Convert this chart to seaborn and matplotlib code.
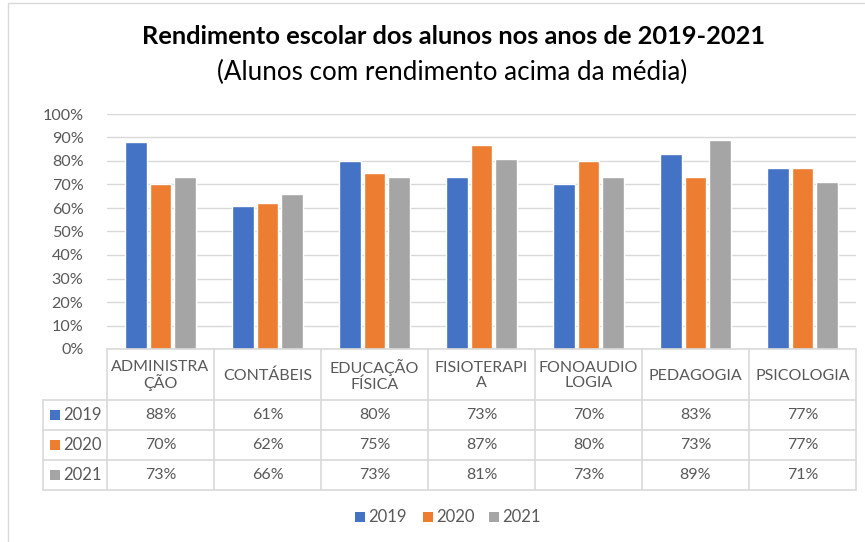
"""
    Rendimento escolar chart with data table (Excel style)
"""

import numpy as np
import pandas as pd
import seaborn as sns
import matplotlib.pyplot as plt
from matplotlib.patches import Rectangle

# DATA
cursos = ["ADMINISTRA\nÇÃO", "CONTÁBEIS", "EDUCAÇÃO\nFÍSICA", "FISIOTERAPI\nA",
          "FONOAUDIO\nLOGIA", "PEDAGOGIA", "PSICOLOGIA"]
anos = ["2019", "2020", "2021"]
v2019 = [88, 61, 80, 73, 70, 83, 77]
v2020 = [70, 62, 75, 87, 80, 73, 77]
v2021 = [73, 66, 73, 81, 73, 89, 71]
yticks = [0, 10, 20, 30, 40, 50, 60, 70, 80, 90, 100]
cores = ["#4472C4", "#ED7D31", "#A5A5A5"]

series = {"2019": v2019, "2020": v2020, "2021": v2021}
df = pd.DataFrame([(c, a, v) for a in anos for c, v in zip(cursos, series[a])],
                  columns=["curso", "ano", "valor"])

sns.set_theme(style="white")
plt.rcParams['font.family'] = ['Lato', 'DejaVu Sans']

W, H = 865, 542
fig = plt.figure(figsize=(W / 100, H / 100), dpi=100)

# pixel layout
x0, x1 = 107, 856
ytop, ybot = 114, 349
ax = fig.add_axes([x0 / W, 1 - ybot / H, (x1 - x0) / W, (ybot - ytop) / H])

sns.barplot(data=df, x="curso", y="valor", hue="ano", palette=cores,
            width=0.69, gap=0.12, saturation=1, ax=ax, legend=False)
ax.set_ylim(0, 100)
ax.set_xlim(-0.5, len(cursos) - 0.5)
ax.set_yticks(yticks)
ax.set_yticklabels(["%d%%" % t for t in yticks], color="#595959", fontsize=11.6)
ax.tick_params(axis="y", length=0, pad=17)
ax.set_xticks([])
ax.set_xlabel("")
ax.set_ylabel("")
ax.grid(axis="y", color="#D9D9D9", linewidth=1)
ax.set_axisbelow(True)
for s in ax.spines.values():
    s.set_visible(False)

# overlay axes in pixel coordinates for table, titles, frame
ov = fig.add_axes([0, 0, 1, 1], facecolor="none")
ov.set_xlim(0, W)
ov.set_ylim(H, 0)
ov.axis("off")

# chart frame
ov.plot([8, 8, 864], [542, 3, 3], color="#D9D9D9", lw=1)

ov.text(W / 2 + 21, 37, "Rendimento escolar dos alunos nos anos de 2019-2021",
        ha="center", va="center", fontsize=18.3, fontweight="bold", color="#000000")
ov.text(W / 2 + 20, 72, "(Alunos com rendimento acima da média)",
        ha="center", va="center", fontsize=18.7, color="#000000")

# data table
lc = "#D9D9D9"
tc = "#595959"
fs = 11.5
lab_x = 43
col_w = (x1 - x0) / len(cursos)
row_y = [349, 400, 430, 460, 490]
# horizontal lines
ov.plot([x0, x1], [row_y[0], row_y[0]], color=lc, lw=1.2)
for y in row_y[1:]:
    ov.plot([lab_x, x1], [y, y], color=lc, lw=1.2)
# vertical lines
ov.plot([lab_x, lab_x], [row_y[1], row_y[-1]], color=lc, lw=1.2)
for i in range(len(cursos) + 1):
    ov.plot([x0 + i * col_w] * 2, [row_y[0], row_y[-1]], color=lc, lw=1.2)

for i, c in enumerate(cursos):
    ov.text(x0 + (i + 0.5) * col_w, (row_y[0] + row_y[1]) / 2 + 1, c,
            ha="center", va="center", fontsize=fs, color=tc, linespacing=1.05)
for r, a in enumerate(anos):
    yc = (row_y[r + 1] + row_y[r + 2]) / 2
    ov.add_patch(Rectangle((50, yc - 5), 10, 10, color=cores[r], lw=0))
    ov.text(63, yc, a, ha="left", va="center", fontsize=fs + 0.5, color=tc)
    for i, v in enumerate(series[a]):
        ov.text(x0 + (i + 0.5) * col_w, yc, "%d%%" % v,
                ha="center", va="center", fontsize=fs, color=tc)

# legend
leg_x = [355, 423, 489]
for r, a in enumerate(anos):
    ov.add_patch(Rectangle((leg_x[r], 512), 10, 10, color=cores[r], lw=0))
    ov.text(leg_x[r] + 13, 517, a, ha="left", va="center", fontsize=fs + 0.5, color=tc)

plt.savefig("out.png", dpi=100)
